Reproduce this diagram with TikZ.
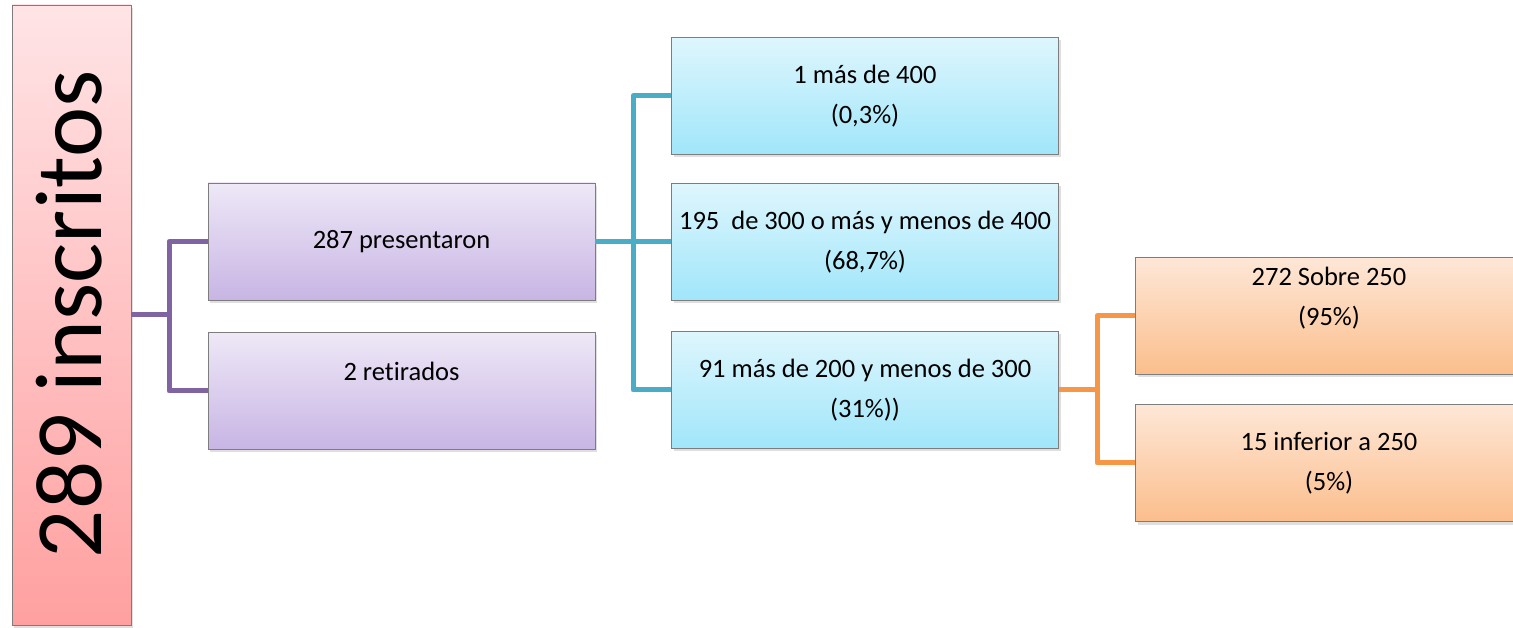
\documentclass[tikz,border=0pt]{standalone}
\usepackage{fontspec}
\setmainfont{Carlito}[Ligatures=NoCommon]
\usetikzlibrary{shadows}
\definecolor{pinktop}{RGB}{255,228,230}
\definecolor{pinkbot}{RGB}{255,160,160}
\definecolor{purtop}{RGB}{238,232,247}
\definecolor{purbot}{RGB}{200,181,228}
\definecolor{blutop}{RGB}{222,246,253}
\definecolor{blubot}{RGB}{160,230,250}
\definecolor{ortop}{RGB}{254,231,215}
\definecolor{orbot}{RGB}{251,190,140}
\definecolor{boxborder}{RGB}{125,125,125}
\definecolor{purline}{RGB}{128,100,162}
\definecolor{bluline}{RGB}{75,172,198}
\definecolor{orline}{RGB}{247,150,70}
\begin{document}
\begin{tikzpicture}[x=1pt,y=1pt,
  box/.style={draw=boxborder, line width=0.8pt, minimum width=387pt, minimum height=117pt,
    inner sep=0pt, align=center, font=\fontsize{26.5}{40}\selectfont,
    drop shadow={shadow xshift=2pt, shadow yshift=-3pt, opacity=0.25}},
  purbox/.style={box, top color=purtop, bottom color=purbot},
  blubox/.style={box, top color=blutop, bottom color=blubot},
  orbox/.style={box, top color=ortop, bottom color=orbot},
  conn/.style={line width=5pt, line join=round, line cap=butt}]
\useasboundingbox (0,0) rectangle (1513,627);

% root box
\node[draw=boxborder, line width=0.8pt, minimum width=119pt, minimum height=620pt, inner sep=0pt,
  top color=pinktop, bottom color=pinkbot,
  drop shadow={shadow xshift=2pt, shadow yshift=-3pt, opacity=0.25}] (root) at (71.5,312) {};
\node[rotate=90, anchor=base, inner sep=0pt, font=\fontsize{95}{110}\selectfont] (roottxt) at (101,313) {289 inscritos};

% second level
\node[purbox] (p1) at (401.5,385.5) {287 presentaron};
\node[purbox] (p2) at (401.5,236) {2 retirados\\ \mbox{}};

% third level
\node[blubox] (b1) at (865,531) {1 más de 400\\(0,3\%)};
\node[blubox] (b2) at (865,385) {195~ de 300 o más y menos de 400\\(68,7\%)};
\node[blubox] (b3) at (865,237) {91 más de 200 y menos de 300\\(31\%))};

% fourth level
\node[orbox] (o1) at (1329,311) {272 Sobre 250\\(95\%)\\ \mbox{}};
\node[orbox] (o2) at (1329,164) {15 inferior a 250\\(5\%)};

% joints
\coordinate (pj) at (169,312);
\coordinate (bj) at (633,385);
\coordinate (oj) at (1097,237);

% connectors
\draw[conn, purline] (root.east |- pj) -- (pj);
\draw[conn, purline] (p1.west) -- (p1.west -| pj) -- (p2.west -| pj) -- (p2.west);

\draw[conn, bluline] (p1.east) -- (p1.east -| bj);
\draw[conn, bluline] (b1.west) -- (b1.west -| bj) -- (b3.west -| bj) -- (b3.west);
\draw[conn, bluline] (b2.west) -- (b2.west -| bj);

\draw[conn, orline] (b3.east) -- (b3.east -| oj);
\draw[conn, orline] (o1.west) -- (o1.west -| oj) -- (o2.west -| oj) -- (o2.west);
\end{tikzpicture}
\end{document}
